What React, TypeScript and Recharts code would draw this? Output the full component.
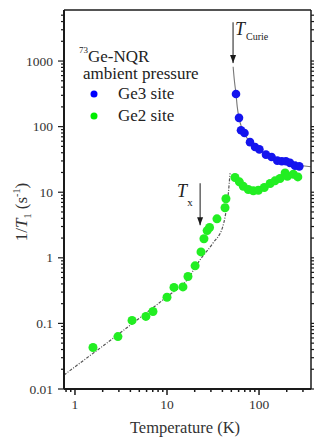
import React from "react";
import {
  ComposedChart,
  Scatter,
  Line,
  XAxis,
  YAxis,
  ReferenceLine,
  ReferenceDot,
} from "recharts";

// 1/T1 of Ge3 site (blue), T in K
const ge3Site = [
  { t: 56.2, v: 315 },
  { t: 60.6, v: 136 },
  { t: 63.7, v: 88 },
  { t: 69.5, v: 80 },
  { t: 79.8, v: 58 },
  { t: 90.5, v: 49 },
  { t: 101, v: 45 },
  { t: 119, v: 37.4 },
  { t: 137, v: 34.5 },
  { t: 158, v: 30.3 },
  { t: 177, v: 29.6 },
  { t: 196, v: 29.6 },
  { t: 217, v: 28 },
  { t: 246, v: 25.4 },
  { t: 274, v: 24.8 },
];

// 1/T1 of Ge2 site (green)
const ge2Site = [
  { t: 1.57, v: 0.043 },
  { t: 2.93, v: 0.063 },
  { t: 4.17, v: 0.111 },
  { t: 5.9, v: 0.128 },
  { t: 7.04, v: 0.152 },
  { t: 10.0, v: 0.25 },
  { t: 11.9, v: 0.354 },
  { t: 14.9, v: 0.36 },
  { t: 16.9, v: 0.52 },
  { t: 20.2, v: 0.755 },
  { t: 23.4, v: 1.23 },
  { t: 25.2, v: 1.95 },
  { t: 27.3, v: 2.6 },
  { t: 29, v: 2.9 },
  { t: 34.9, v: 3.93 },
  { t: 42.7, v: 5.8 },
  { t: 43.7, v: 7.95 },
  { t: 54.8, v: 16.8 },
  { t: 61.1, v: 14.4 },
  { t: 67.5, v: 12.3 },
  { t: 76.5, v: 11.0 },
  { t: 86.8, v: 10.5 },
  { t: 98.3, v: 10.7 },
  { t: 114, v: 11.8 },
  { t: 132, v: 13.6 },
  { t: 149, v: 14.9 },
  { t: 169, v: 16.2 },
  { t: 192, v: 19.7 },
  { t: 203, v: 17.5 },
  { t: 236, v: 18.8 },
  { t: 264, v: 17.1 },
];

// guide curves
const fitBelowTc = [
  { t: 0.76, v: 0.0163 },
  { t: 1, v: 0.0218 },
  { t: 2, v: 0.045 },
  { t: 5, v: 0.12 },
  { t: 10, v: 0.256 },
  { t: 16.5, v: 0.46 },
  { t: 22.8, v: 0.93 },
  { t: 31.7, v: 1.69 },
  { t: 40.3, v: 2.97 },
  { t: 44.5, v: 5.97 },
  { t: 46.5, v: 10 },
  { t: 48.4, v: 19.5 },
];

const fitAboveTc = [
  { t: 52.3, v: 820 },
  { t: 54, v: 500 },
  { t: 56.2, v: 315 },
  { t: 58, v: 200 },
  { t: 60.6, v: 136 },
  { t: 65, v: 95 },
  { t: 70, v: 76 },
  { t: 80, v: 58 },
  { t: 90, v: 49 },
  { t: 110, v: 40 },
  { t: 130, v: 35 },
  { t: 170, v: 30 },
  { t: 217, v: 27.5 },
  { t: 280, v: 25.5 },
  { t: 367, v: 24.5 },
];

const xDomain = [0.76, 367];
const yDomain = [0.01, 6000];
const xMajor = [1, 10, 100];
const yMajor = [0.01, 0.1, 1, 10, 100, 1000];
const minorSteps = [2, 3, 4, 5, 6, 7, 8, 9];

function logTicks(decades: number[], lo: number, hi: number) {
  const out: number[] = [];
  decades.forEach((d) => {
    [1, ...minorSteps].forEach((m) => {
      const v = +(m * d).toPrecision(3);
      if (v >= lo && v < hi) out.push(v);
    });
  });
  return out;
}

const xTicks = logTicks([0.1, 1, 10, 100], xDomain[0], xDomain[1]);
const yTicks = logTicks([0.01, 0.1, 1, 10, 100, 1000], yDomain[0], yDomain[1]);

const FONT = "Liberation Serif, DejaVu Serif, serif";
const serif = { fontFamily: FONT };
const INK = "#1a1a1a";

const XTick = ({ x, y, payload, top }: any) => {
  const major = xMajor.includes(payload.value);
  const len = major ? 6 : 3;
  const dir = top ? -1 : 1;
  return (
    <g>
      <line x1={x} x2={x} y1={y} y2={y + dir * len} stroke={INK} strokeWidth={1.5} />
      {!top && major && (
        <text x={x} y={y + 20} textAnchor="middle" fontSize={13.5} style={serif} fill="#333">
          {payload.value}
        </text>
      )}
    </g>
  );
};

const YTick = ({ x, y, payload, right }: any) => {
  const major = yMajor.includes(payload.value);
  const len = major ? 6 : 3;
  const dir = right ? 1 : -1;
  return (
    <g>
      <line x1={x} x2={x + dir * len} y1={y} y2={y} stroke={INK} strokeWidth={1.2} />
      {!right && major && (
        <text x={x - 11} y={y + 4.5} textAnchor="end" fontSize={13.5} style={serif} fill="#333">
          {payload.value}
        </text>
      )}
    </g>
  );
};

const Dot = (color: string, r: number) => (p: any) =>
  <circle cx={p.cx} cy={p.cy} r={r} fill={color} />;

const ArrowHead = (p: any) => (
  <path
    d={`M${p.cx - 3},${p.cy - 8} L${p.cx + 3},${p.cy - 8} L${p.cx},${p.cy} Z`}
    fill={INK}
  />
);

const CurieLabel = (p: any) => (
  <text x={p.cx + 2} y={p.cy + 13} style={serif} fill="#222">
    <tspan fontSize={18} fontStyle="italic">T</tspan>
    <tspan fontSize={10} dy={5} dx={1}>Curie</tspan>
  </text>
);

const TxLabel = (p: any) => (
  <text x={p.cx - 23} y={p.cy + 14} style={serif} fill="#222">
    <tspan fontSize={18} fontStyle="italic">T</tspan>
    <tspan fontSize={11} dy={9}>x</tspan>
  </text>
);

const YLabel = () => (
  <text
    x={27}
    y={212}
    transform="rotate(-90 27 212)"
    textAnchor="middle"
    style={serif}
    fontSize={17}
    fill="#333"
  >
    1/<tspan fontStyle="italic">T</tspan>
    <tspan fontSize={10} dy={4}>1</tspan>
    <tspan dy={-4}> (s</tspan>
    <tspan fontSize={10} dy={-7}>-1</tspan>
    <tspan dy={7}>)</tspan>
  </text>
);

const XLabel = () => (
  <text x={185} y={433} textAnchor="middle" style={serif} fontSize={16.5} fill="#333">
    Temperature (K)
  </text>
);

export default function App() {
  return (
    <div style={{ position: "absolute", left: 0, top: 0, width: 314, height: 438, background: "#fff" }}>
      <ComposedChart width={314} height={438} margin={{ top: 0, right: 0, bottom: 0, left: 0 }}>
        <XAxis
          dataKey="t"
          type="number"
          scale="log"
          domain={xDomain}
          allowDataOverflow
          ticks={xTicks}
          interval={0}
          height={49}
          tickSize={0}
          tickMargin={0}
          tick={<XTick />}
          axisLine={{ stroke: INK, strokeWidth: 2 }}
          label={{ content: <XLabel /> }}
        />
        <XAxis
          xAxisId="top"
          orientation="top"
          type="number"
          scale="log"
          domain={xDomain}
          allowDataOverflow
          ticks={xTicks}
          interval={0}
          height={10}
          tickSize={0}
          tickMargin={0}
          tick={<XTick top />}
          axisLine={{ stroke: INK, strokeWidth: 1.5 }}
        />
        <YAxis
          dataKey="v"
          type="number"
          scale="log"
          domain={yDomain}
          allowDataOverflow
          ticks={yTicks}
          interval={0}
          width={64}
          tickSize={0}
          tickMargin={0}
          tick={<YTick />}
          axisLine={{ stroke: INK, strokeWidth: 2 }}
          label={{ content: <YLabel /> }}
        />
        <YAxis
          yAxisId="right"
          orientation="right"
          type="number"
          scale="log"
          domain={yDomain}
          allowDataOverflow
          ticks={yTicks}
          interval={0}
          width={3}
          tickSize={0}
          tickMargin={0}
          tick={<YTick right />}
          axisLine={{ stroke: INK, strokeWidth: 1.5 }}
        />

        <Line
          data={fitBelowTc}
          dataKey="v"
          type="monotone"
          dot={false}
          stroke="#555"
          strokeWidth={1.2}
          strokeDasharray="3 1.5 1 1.5"
          isAnimationActive={false}
        />
        <Line
          data={fitAboveTc}
          dataKey="v"
          type="monotone"
          dot={false}
          stroke="#777"
          strokeWidth={1.1}
          isAnimationActive={false}
        />
        <Scatter data={ge2Site} dataKey="v" shape={Dot("#22ee22", 4.5)} isAnimationActive={false} />
        <Scatter data={ge3Site} dataKey="v" shape={Dot("#1414ee", 4.3)} isAnimationActive={false} />

        <ReferenceLine segment={[{ x: 52.2, y: 3900 }, { x: 52.2, y: 930 }]} stroke={INK} strokeWidth={1} />
        <ReferenceDot x={52.2} y={930} shape={ArrowHead} />
        <ReferenceDot x={52.2} y={3900} shape={CurieLabel} />

        <ReferenceLine segment={[{ x: 22.9, y: 13.7 }, { x: 22.9, y: 3.14 }]} stroke={INK} strokeWidth={1} />
        <ReferenceDot x={22.9} y={3.14} shape={ArrowHead} />
        <ReferenceDot x={22.9} y={13.7} shape={TxLabel} />
      </ComposedChart>

      <svg
        width={314}
        height={438}
        style={{ position: "absolute", left: 0, top: 0, pointerEvents: "none" }}
        fill="#222"
      >
        <text x={79} y={62} fontSize={17} style={serif}>
          <tspan fontSize={9} dy={-9}>73</tspan>
          <tspan dy={9}>Ge-NQR</tspan>
        </text>
        <text x={83} y={79} fontSize={17} style={serif}>ambient pressure</text>
        <circle cx={94} cy={94} r={3.5} fill="#0000ff" />
        <text x={118} y={99} fontSize={17} style={serif}>Ge3 site</text>
        <circle cx={94} cy={116} r={3.5} fill="#00ee00" />
        <text x={118} y={121} fontSize={17} style={serif}>Ge2 site</text>
      </svg>
    </div>
  );
}
